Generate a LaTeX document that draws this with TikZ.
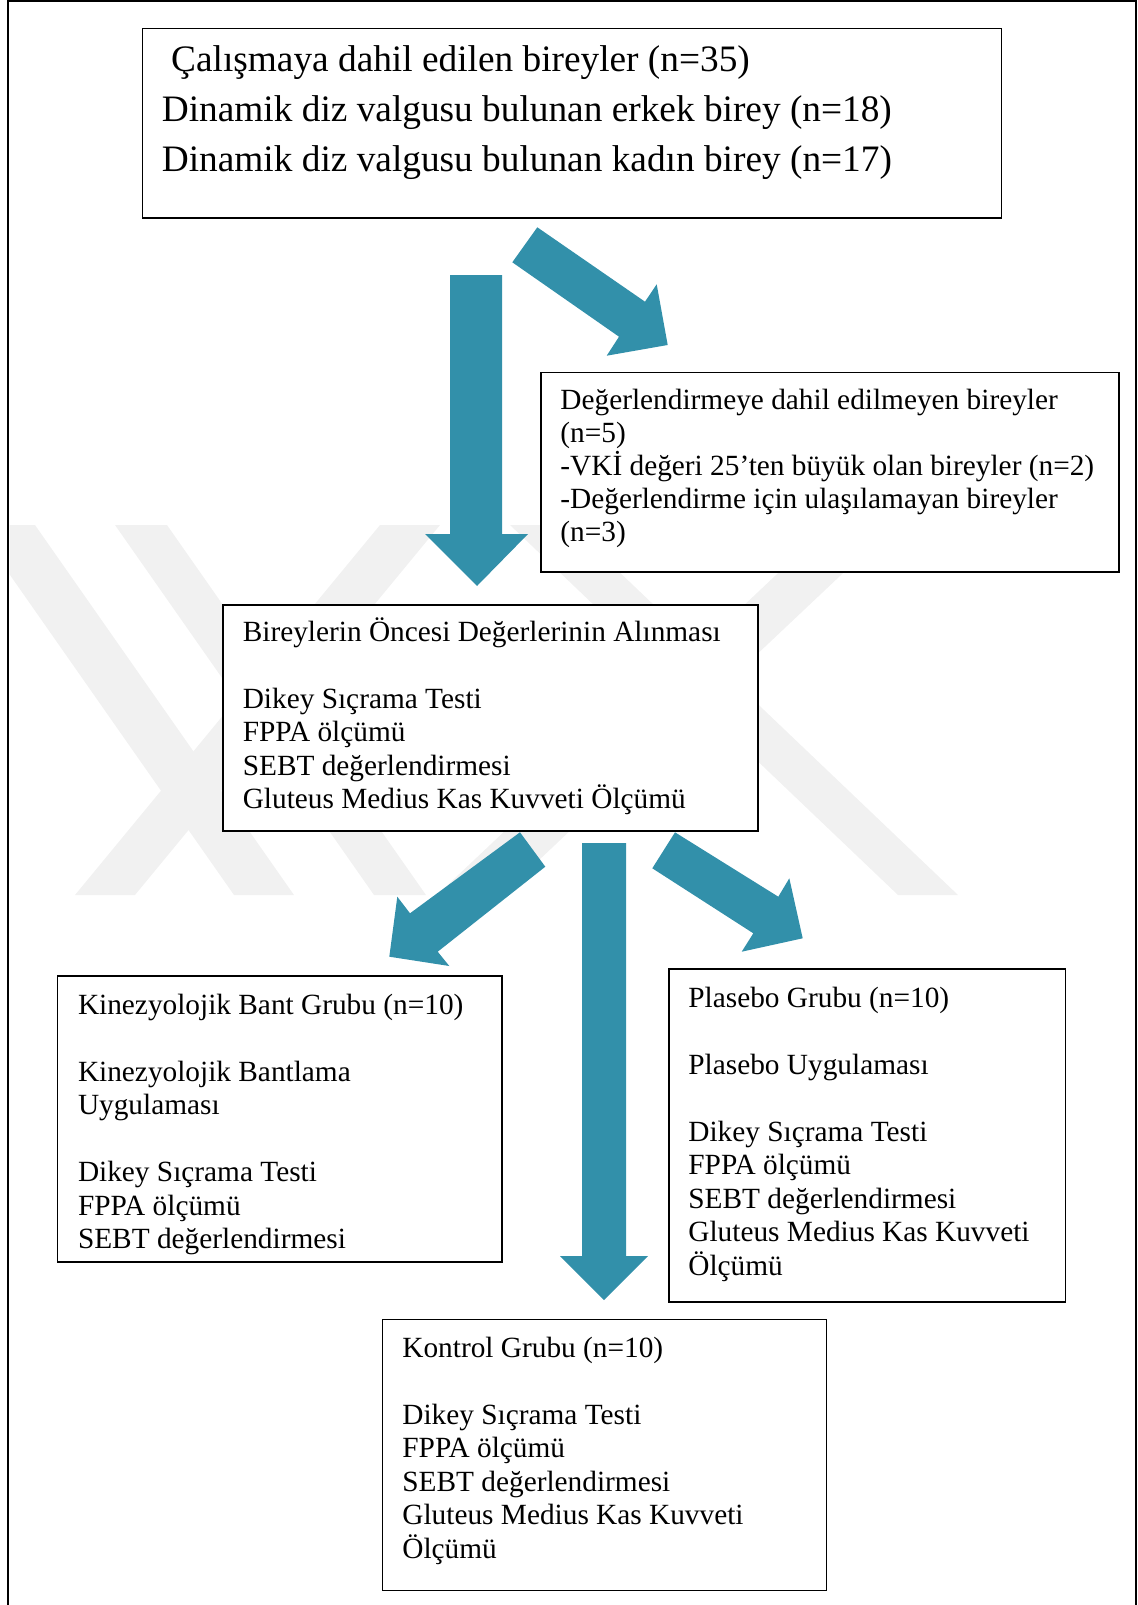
\documentclass[tikz,border=0pt]{standalone}
\usepackage{fontspec}
\setmainfont{Liberation Serif}
\definecolor{arrowc}{RGB}{50,144,170}
\definecolor{wm}{RGB}{241,241,241}
\newcommand{\vlines}[1]{\vtop{\lineskiplimit=-\maxdimen\lineskip=0pt\relax #1}}
\begin{document}
\begin{tikzpicture}[x=0.5pt,y=-0.5pt,
  box/.style={draw=black, line width=0.75pt, fill=white, inner sep=0, anchor=north west},
  txt/.style={anchor=base west, inner sep=0, font=\fontsize{14.66}{16.75}\selectfont},
  txtb/.style={anchor=base west, inner sep=0, font=\fontsize{14.66}{16.5}\selectfont},
  bigtxt/.style={anchor=base west, inner sep=0, font=\fontsize{18.66}{25}\selectfont},
  blockarrow/.style={fill=arrowc},
  wmark/.style={fill=wm}]
\useasboundingbox (0,0) rectangle (1138,1605);
% frame
\draw[line width=1.1pt] (8.3,1605) -- (8.3,1.3) -- (1136.2,1.3) -- (1136.2,1605);
% watermark
\begin{scope}
\clip (9.5,525) rectangle (1135,895);
\fill[wmark] (-25,525) -- (35,525) -- (294,895) -- (234,895) -- cycle;
\fill[wmark] (115,525) -- (167,525) -- (426,895) -- (374,895) -- cycle;
\fill[wmark] (380,525) -- (440,525) -- (135,895) -- (75,895) -- cycle;
\fill[wmark] (829,525) -- (894,525) -- (502,895) -- (437,895) -- cycle;
\fill[wmark] (510,525) -- (570,525) -- (958,895) -- (898,895) -- cycle;
\end{scope}
% boxes
\node[box, minimum width=429.6pt, minimum height=94.8pt] (top) at (141.5,27.8) {};
\node[box, minimum width=289.15pt, minimum height=99.8pt] (excl) at (540,371.8) {};
\node[box, minimum width=267.5pt, minimum height=113pt] (pre) at (222,604) {};
\node[box, minimum width=222.2pt, minimum height=143pt] (kin) at (56.6,975) {};
\node[box, minimum width=198.3pt, minimum height=166.65pt] (pla) at (668,968) {};
\node[box, minimum width=222.05pt, minimum height=135.45pt] (kon) at (381.7,1318.6) {};
% texts
\node[bigtxt] (toptext) at (161.5,72) {\vlines{%
\hbox{\ Çalışmaya dahil edilen bireyler (n=35)}%
\hbox{Dinamik diz valgusu bulunan erkek birey (n=18)}%
\hbox{Dinamik diz valgusu bulunan kadın birey (n=17)}}};
\node[txtb] (excltext) at (560,409) {\vlines{%
\hbox{Değerlendirmeye dahil edilmeyen bireyler}%
\hbox{(n=5)}%
\hbox{-VKİ değeri 25’ten büyük olan bireyler (n=2)}%
\hbox{-Değerlendirme için ulaşılamayan bireyler}%
\hbox{(n=3)}}};
\node[txt] (pretext) at (242.4,641) {\vlines{%
\hbox{Bireylerin Öncesi Değerlerinin Alınması}%
\hbox{}%
\hbox{Dikey Sıçrama Testi}%
\hbox{FPPA ölçümü}%
\hbox{SEBT değerlendirmesi}%
\hbox{Gluteus Medius Kas Kuvveti Ölçümü}}};
\node[txt] (kintext) at (77.6,1014) {\vlines{%
\hbox{Kinezyolojik Bant Grubu (n=10)}%
\hbox{}%
\hbox{Kinezyolojik Bantlama}%
\hbox{Uygulaması}%
\hbox{}%
\hbox{Dikey Sıçrama Testi}%
\hbox{FPPA ölçümü}%
\hbox{SEBT değerlendirmesi}}};
\node[txt] (platext) at (688,1007) {\vlines{%
\hbox{Plasebo Grubu (n=10)}%
\hbox{}%
\hbox{Plasebo Uygulaması}%
\hbox{}%
\hbox{Dikey Sıçrama Testi}%
\hbox{FPPA ölçümü}%
\hbox{SEBT değerlendirmesi}%
\hbox{Gluteus Medius Kas Kuvveti}%
\hbox{Ölçümü}}};
\node[txt] (kontext) at (402,1357) {\vlines{%
\hbox{Kontrol Grubu (n=10)}%
\hbox{}%
\hbox{Dikey Sıçrama Testi}%
\hbox{FPPA ölçümü}%
\hbox{SEBT değerlendirmesi}%
\hbox{Gluteus Medius Kas Kuvveti}%
\hbox{Ölçümü}}};
% block arrows
\fill[blockarrow] (450,275) -- (502,275) -- (502,534) -- (528,534) -- (477,586) -- (425,534) -- (450,534) -- cycle;
\fill[blockarrow] (537.3,227.3) -- (645,301.7) -- (656.7,284.3) -- (667.7,345) -- (606.7,355.7) -- (619,336.7) -- (512.3,262.3) -- cycle;
\fill[blockarrow] (520,832.3) -- (545.3,866.7) -- (437.7,951.7) -- (449.3,966) -- (389.3,956.7) -- (397.3,896.7) -- (410,913.3) -- cycle;
\fill[blockarrow] (675,832.3) -- (778.3,896.7) -- (789.3,878.3) -- (802.7,938.3) -- (741.7,951.7) -- (753.3,933.3) -- (652.3,868.3) -- cycle;
\fill[blockarrow] (582,843) -- (626,843) -- (626,1256) -- (648,1256) -- (604,1300) -- (560,1256) -- (582,1256) -- cycle;
\end{tikzpicture}
\end{document}
